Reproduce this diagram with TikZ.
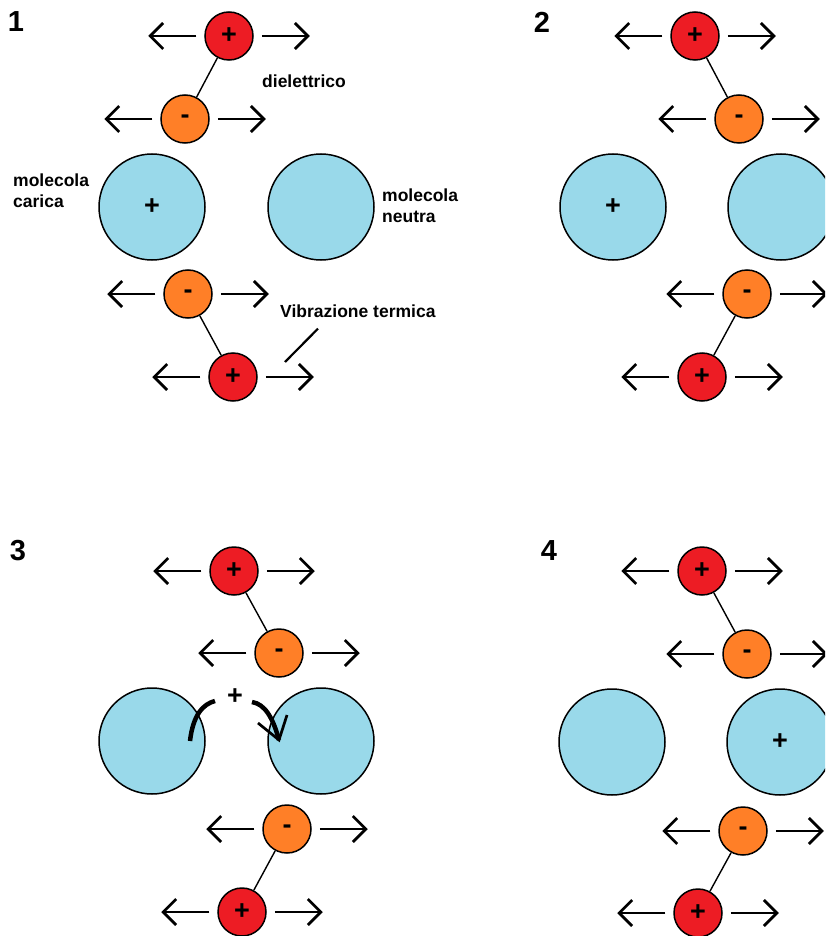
\documentclass[tikz,border=0pt]{standalone}
\usepackage{fontspec}
\setmainfont{Liberation Sans}
\usetikzlibrary{arrows.meta, positioning}
\definecolor{colPos}{RGB}{237, 28, 36}
\definecolor{colNeg}{RGB}{255, 127, 39}
\definecolor{colMol}{RGB}{153, 217, 234}

\begin{document}
\begin{tikzpicture}[x=1pt, y=-1pt,
    every node/.style={font=\fontsize{17.5}{21}\selectfont\bfseries},
    poscharge/.style={circle, draw, line width=1.5pt, fill=colPos, minimum size=48pt, inner sep=0pt, font=\fontsize{27}{27}\selectfont\bfseries},
    negcharge/.style={poscharge, fill=colNeg},
    mol/.style={circle, draw, line width=1.5pt, fill=colMol, minimum size=106pt, inner sep=0pt, font=\fontsize{27}{27}\selectfont\bfseries},
    vib/.style={-{Straight Barb[length=13pt, width=26pt]}, line width=2.7pt},
    bond/.style={line width=1.4pt},
    lbl/.style={anchor=west, align=left, inner sep=0pt},
    num/.style={inner sep=0pt, font=\fontsize{29}{29}\selectfont\bfseries}
]
    \clip (0, 0) rectangle (825, 936);

    % --- 1: molecola carica a sinistra ---
    \node[num] (n1) at (16, 22) {1};
    \node[mol] (M1l) at (152, 207) {+};
    \node[mol] (M1r) at (321, 207) {};
    \node[poscharge] (p1a) at (229, 36) {+};
    \node[negcharge] (m1a) at (185, 119) {-};
    \node[negcharge] (m1b) at (188, 294) {-};
    \node[poscharge] (p1b) at (233, 377) {+};
    \draw[bond] (p1a) -- (m1a);
    \draw[bond] (m1b) -- (p1b);

    \node[lbl] (diel) at (262, 81) {dielettrico};
    \node[lbl] (carica) at (13, 191) {molecola\\carica};
    \node[lbl] (neutra) at (382, 206) {molecola\\neutra};
    \node[lbl] (vibr) at (280, 311) {Vibrazione termica};
    \coordinate (lead) at (285, 362);
    \draw[line width=2.2pt] (vibr.south west) ++(38, 11) -- (lead);

    % --- 2 ---
    \node[num] (n2) at (542, 22) {2};
    \node[mol] (M2l) at (613, 207) {+};
    \node[mol] (M2r) at (781, 207) {};
    \node[poscharge] (p2a) at (695, 36) {+};
    \node[negcharge] (m2a) at (739, 119) {-};
    \node[negcharge] (m2b) at (747, 294) {-};
    \node[poscharge] (p2b) at (702, 377) {+};
    \draw[bond] (p2a) -- (m2a);
    \draw[bond] (m2b) -- (p2b);

    % --- 3: la carica salta ---
    \node[num] (n3) at (18, 551) {3};
    \node[mol] (M3l) at (152, 741) {};
    \node[mol] (M3r) at (321, 741) {};
    \node[poscharge] (p3a) at (234, 571) {+};
    \node[negcharge] (m3a) at (279, 653) {-};
    \node[negcharge] (m3b) at (287, 829) {-};
    \node[poscharge] (p3b) at (242, 912) {+};
    \draw[bond] (p3a) -- (m3a);
    \draw[bond] (m3b) -- (p3b);

    \node[inner sep=0pt, font=\fontsize{27}{27}\selectfont\bfseries] (salto) at (235, 697) {+};
    \draw[line width=4.5pt] (190, 741) .. controls (193, 715) and (203, 704) .. (215, 701);
    \draw[line width=4.5pt] (252, 702) .. controls (265, 704) and (273, 718) .. (279, 740);
    \draw[line width=2.7pt] (258, 723) -- (279, 740) -- (287, 715);

    % --- 4: molecola carica a destra ---
    \node[num] (n4) at (549, 551) {4};
    \node[mol] (M4l) at (612, 742) {};
    \node[mol] (M4r) at (780, 742) {+};
    \node[poscharge] (p4a) at (702, 571) {+};
    \node[negcharge] (m4a) at (747, 654) {-};
    \node[negcharge] (m4b) at (743, 831) {-};
    \node[poscharge] (p4b) at (698, 913) {+};
    \draw[bond] (p4a) -- (m4a);
    \draw[bond] (m4b) -- (p4b);

    % frecce di vibrazione
    \foreach \n in {p1a, m1a, m1b, p1b, p2a, m2a, m2b, p2b,
                    p3a, m3a, m3b, p3b, p4a, m4a, m4b, p4b} {
        \draw[vib] ([xshift=-8pt]\n.west) -- ++(-48, 0);
        \draw[vib] ([xshift=8pt]\n.east) -- ++(48, 0);
    }
\end{tikzpicture}
\end{document}
